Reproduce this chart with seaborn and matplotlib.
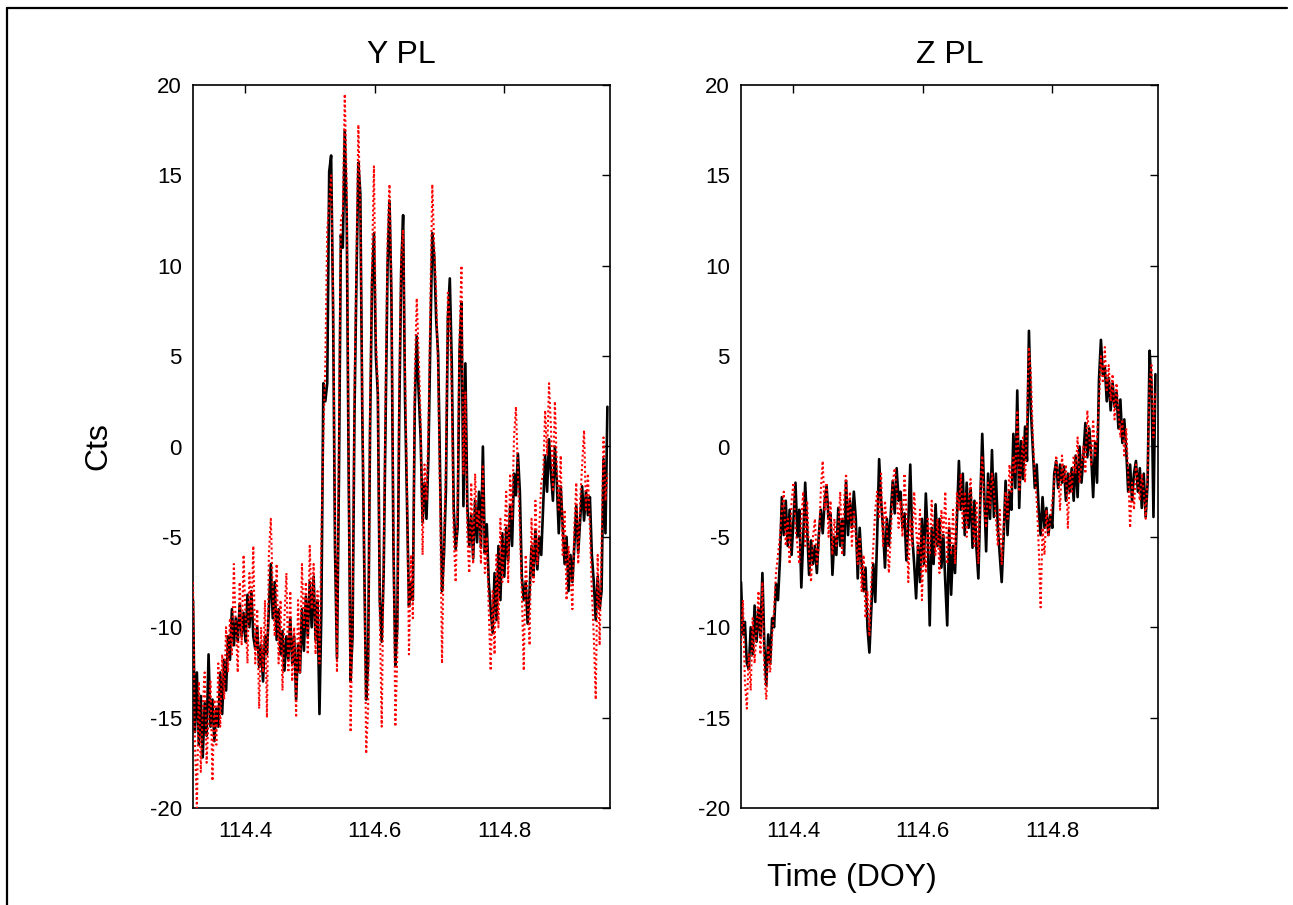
import numpy as np
import pandas as pd
import matplotlib
matplotlib.use("Agg")
import matplotlib.pyplot as plt
import seaborn as sns
from matplotlib.lines import Line2D

# ---------------- data ----------------
T_START = 114.32
T_STEP = 0.003

y_black = [
    -8.5, -15.8, -12.5, -16.5, -13.8, -17.2, -14.2, -16.0, -11.5, -15.5,
    -14.0, -16.3, -14.5, -15.5, -12.5, -14.8, -11.8, -13.5, -10.5, -11.8,
    -9.0, -11.0, -9.5, -10.8, -8.7, -10.5, -9.2, -10.8, -8.2, -10.0,
    -8.0, -10.5, -11.2, -10.0, -12.2, -11.0, -13.0, -10.5, -11.5, -9.0,
    -6.5, -9.5, -7.5, -10.7, -9.0, -11.5, -10.2, -12.4, -10.5, -11.8,
    -9.5, -12.0, -10.5, -14.0, -11.0, -12.5, -9.0, -11.3, -8.3, -10.5,
    -7.5, -10.0, -7.2, -10.7, -8.5, -14.8, -9.0, 3.5, 2.5, 3.5,
    15.2, 16.1, 7.6, -5.7, -11.7, -1.9, 11.7, 11.0, 17.5, 12.8,
    -1.3, -13.0, -10.5, 1.8, 9.2, 15.7, 14.0, 1.9, -6.4, -14.0,
    -12.0, 0.9, 9.0, 11.8, 5.0, 2.9, -8.5, -10.8, -7.0, 1.5,
    10.0, 13.6, 8.2, -5.4, -12.1, -10.0, 1.7, 9.7, 12.8, 2.5,
    -3.1, -8.8, -7.5, -8.5, 2.3, 6.1, 3.0, 0.5, -4.2, -2.0,
    -4.0, -0.6, 6.0, 11.8, 10.5, 7.0, 5.1, -1.3, -8.0, -6.0,
    -2.4, 7.1, 9.3, 4.6, -3.4, -5.7, -4.5, 5.3, 8.0, -3.3,
    4.6, -3.3, -5.5, -3.8, -6.2, -3.0, -5.3, -2.5, -5.6, 0.0,
    -5.9, -4.3, -7.5, -9.0, -10.3, -7.0, -9.6, -5.5, -8.5, -4.8,
    -7.2, -4.5, -6.3, -3.3, -5.5, -1.5, -2.7, -0.4, -2.5, -7.2,
    -8.5, -7.5, -9.8, -8.0, -5.5, -7.2, -4.6, -6.8, -5.0, -6.0,
    -3.3, -0.5, -2.5, 0.4, -1.5, -3.0, 0.0, -2.0, -4.8, -2.2,
    -4.3, -6.5, -5.0, -8.0, -6.0, -7.5, -5.5, -3.3, -5.9, -4.0,
    -2.2, -4.1, -2.5, -3.8, -2.8, -6.0, -7.5, -9.6, -7.2, -9.0,
    -8.0, -0.7, -4.8, 2.2,
]

y_red = [
    -7.5, -16.5, -20.0, -13.0, -18.0, -14.5, -12.5, -17.5, -15.0, -13.0,
    -18.5, -14.0, -16.5, -12.0, -15.5, -11.5, -14.0, -10.0, -12.5, -9.5,
    -11.5, -6.5, -10.0, -12.5, -7.5, -11.0, -6.0, -9.5, -12.0, -7.0,
    -9.5, -5.5, -12.0, -9.0, -14.5, -10.0, -12.5, -8.5, -15.0, -6.0,
    -4.0, -8.0, -10.5, -6.5, -12.0, -8.5, -13.5, -9.5, -7.0, -12.5,
    -8.0, -13.0, -10.0, -15.0, -8.5, -12.5, -6.5, -10.0, -7.5, -11.5,
    -5.5, -9.0, -6.5, -11.5, -8.0, -12.0, -5.0, 0.5, 4.5, 12.0,
    13.5, 15.0, 8.5, -4.5, -12.5, 0.5, 12.5, 13.0, 19.5, 14.5,
    -0.5, -15.8, -9.5, 3.0, 10.5, 17.8, 13.0, 3.0, -5.5, -17.0,
    -14.5, 2.0, 10.0, 15.5, 6.0, 3.5, -9.5, -15.5, -6.0, 3.0,
    11.5, 14.5, 9.0, -4.0, -15.5, -11.5, 3.0, 10.5, 12.0, 4.0,
    -2.0, -11.5, -6.0, -9.5, 4.0, 8.2, 5.0, 1.5, -6.0, -1.0,
    -3.0, 1.0, 8.0, 14.5, 11.0, 8.5, 4.0, -3.0, -12.0, -5.0,
    -1.0, 8.5, 7.0, 3.0, -5.0, -7.5, -3.0, 6.0, 10.0, -1.5,
    3.0, -5.0, -7.0, -2.0, -6.5, -1.5, -4.5, -3.5, -6.5, -1.0,
    -7.0, -5.0, -9.0, -12.4, -8.0, -11.5, -6.0, -10.0, -4.0, -7.5,
    -5.0, -2.5, -7.5, -1.5, -4.0, 0.5, 2.2, -1.5, -4.5, -8.0,
    -12.4, -6.0, -8.5, -11.0, -4.0, -7.5, -3.0, -6.5, -4.5, -2.0,
    -1.5, 2.0, -0.5, 3.5, 1.0, -2.5, 2.5, -1.0, -3.5, -0.5,
    -6.0, -3.5, -8.5, -5.5, -7.0, -9.0, -4.5, -2.0, -6.5, -3.0,
    -1.0, 0.9, -3.5, -1.5, -4.5, -8.0, -10.5, -14.0, -6.0, -11.0,
    -5.5, 0.5, -3.0, -1.5,
]

z_black = [
    -7.5, -10.4, -9.7, -12.0, -12.3, -10.0, -11.5, -8.8, -10.8, -9.0,
    -10.5, -7.0, -11.0, -13.2, -10.4, -12.0, -9.5, -10.0, -7.6, -8.5,
    -6.3, -2.8, -4.9, -3.0, -5.5, -3.5, -6.0, -4.0, -2.0, -5.0,
    -3.5, -7.8, -5.0, -2.0, -4.5, -7.1, -5.2, -6.5, -5.5, -7.0,
    -4.9, -3.5, -4.8, -3.0, -2.2, -4.0, -3.7, -7.1, -5.0, -6.0,
    -3.4, -5.5, -4.0, -6.0, -1.9, -4.9, -3.0, -4.5, -2.5, -4.0,
    -7.3, -4.5, -6.5, -8.0, -6.7, -10.0, -11.4, -9.0, -6.5, -8.6,
    -4.9, -0.7, -3.0, -4.5, -6.7, -4.0, -5.5, -3.7, -1.9, -3.7,
    -1.2, -3.0, -2.5, -4.5, -3.7, -6.3, -4.2, -1.0, -4.9, -6.5,
    -8.4, -5.5, -7.5, -4.0, -6.5, -2.6, -5.0, -9.9, -4.5, -6.5,
    -3.2, -5.5, -4.0, -6.7, -4.9, -7.5, -9.9, -4.5, -8.2, -5.5,
    -7.0, -4.0, -0.8, -3.5, -1.5, -4.9, -2.0, -4.5, -2.3, -5.6,
    -3.0, -5.6, -7.3, -3.0, 0.7, -2.5, -5.8, -1.5, -4.0, -0.2,
    -3.9, -1.5, -4.5, -6.0, -7.5, -5.0, -1.9, -4.9, -2.5, -3.5,
    0.7, -2.3, 3.1, -3.4, 0.3, -1.8, 1.1, -0.8, 6.4, 2.0,
    -0.2, -2.3, -1.0, -3.5, -4.9, -2.8, -4.5, -3.4, -4.9, -3.8,
    -4.5, -1.5, -0.8, -2.3, -1.0, -2.0, -1.1, -3.0, -1.5, -2.5,
    -1.2, -3.0, -0.5, -2.8, 0.0, -2.0, -0.5, 1.3, -0.6, 1.0,
    -0.5, -2.8, 0.2, -2.0, 3.7, 5.9, 4.0, 4.4, 2.5, 3.8,
    2.0, 3.5, 2.2, 3.0, 1.0, 2.6, 0.2, 1.5, -0.2, -2.5,
    -1.0, -3.0, -1.5, -0.8, -2.5, -1.2, -3.4, -1.5, -3.9, -2.0,
    5.3, 3.5, -3.9, 4.0,
]

z_red = [
    -11.0, -8.5, -13.0, -14.5, -11.5, -13.5, -9.5, -12.0, -10.0, -8.0,
    -11.5, -7.5, -12.5, -14.0, -11.0, -12.5, -10.5, -9.0, -7.0, -6.0,
    -5.0, -3.5, -2.5, -5.5, -4.0, -6.5, -3.0, -2.0, -4.5, -5.5,
    -6.5, -4.0, -2.5, -5.5, -3.0, -6.0, -7.5, -5.0, -4.0, -6.5,
    -5.5, -2.5, -0.8, -3.5, -2.0, -5.0, -3.0, -6.0, -4.0, -5.5,
    -4.5, -2.5, -6.0, -3.0, -1.5, -4.0, -2.5, -5.5, -3.5, -5.0,
    -6.5, -5.0, -8.0, -6.0, -9.5, -8.0, -10.5, -7.5, -5.5, -3.5,
    -2.5, -4.0, -1.5, -5.5, -3.0, -4.5, -7.0, -5.0, -2.0, -1.2,
    -2.5, -4.5, -3.0, -5.0, -1.5, -3.5, -7.5, -4.0, -5.5, -2.5,
    -4.5, -6.0, -3.5, -8.5, -5.0, -7.0, -4.0, -6.0, -3.0, -5.0,
    -6.0, -4.0, -7.0, -3.5, -5.0, -2.5, -6.5, -4.0, -6.0, -3.5,
    -6.5, -2.5, -3.5, -1.5, -4.5, -2.5, -5.0, -3.0, -1.8, -4.0,
    -5.5, -3.0, -6.5, -2.5, -0.5, -3.5, -4.5, -2.0, -3.5, -1.5,
    -2.5, -4.0, -5.5, -3.5, -6.5, -4.5, -2.5, -4.0, -1.0, -2.5,
    -0.5, -1.5, 2.0, -2.5, -1.0, 0.5, -2.0, 1.5, 5.5, 4.0,
    0.5, -1.5, -3.0, -5.5, -8.9, -4.5, -6.0, -3.5, -5.0, -4.0,
    -3.0, -2.0, -0.5, -1.5, -3.5, -0.5, -2.0, -1.0, -4.5, -1.5,
    -2.5, -0.5, -1.5, 0.5, -2.0, -1.0, 0.0, -1.5, 2.0, 0.5,
    -1.0, 1.5, -0.5, 0.5, 2.5, 5.0, 3.5, 5.5, 3.0, 4.5,
    2.5, 4.0, 1.5, 3.5, 2.0, 0.5, 1.5, -0.5, 1.0, -1.5,
    -4.5, -2.0, -3.5, -1.0, -2.0, -3.0, -1.5, -2.5, -4.0, -1.5,
    3.5, 4.5, 0.5, 3.0,
]

titles = ["Y PL", "Z PL"]
x_ticks = [114.4, 114.6, 114.8]
x_tick_labels = ["114.4", "114.6", "114.8"]
y_ticks = [-20, -15, -10, -5, 0, 5, 10, 15, 20]
y_tick_labels = ["-20", "-15", "-10", "-5", "0", "5", "10", "15", "20"]
x_limits = (114.32, 114.963)
y_limits = (-20, 20)
y_label = "Cts"
x_label = "Time (DOY)"

# ---------------- figure ----------------
sns.set_theme(style="white")
plt.rcParams["font.family"] = ["Liberation Sans", "DejaVu Sans"]

fig = plt.figure(figsize=(12.93, 9.05), dpi=100)
W, H = 1293.0, 905.0
ax_l = fig.add_axes([193 / W, 1 - 808 / H, 417 / W, 723 / H])
ax_r = fig.add_axes([741 / W, 1 - 808 / H, 417 / W, 723 / H])


def make_frame(black, red):
    t_b = T_START + T_STEP * np.arange(len(black))
    t_r = T_START + T_STEP * np.arange(len(red))
    return (pd.DataFrame({"t": t_b, "v": black}),
            pd.DataFrame({"t": t_r, "v": red}))


panels = [(ax_l, y_black, y_red), (ax_r, z_black, z_red)]
for k, (ax, blk, rd) in enumerate(panels):
    dfb, dfr = make_frame(blk, rd)
    sns.lineplot(data=dfb, x="t", y="v", ax=ax, color="black", lw=1.9,
                 estimator=None, sort=False, zorder=2)
    sns.lineplot(data=dfr, x="t", y="v", ax=ax, color="red", lw=1.5,
                 linestyle=(0, (1, 1.3)), estimator=None, sort=False, zorder=3)
    ax.set_xlim(*x_limits)
    ax.set_ylim(*y_limits)
    ax.set_xticks(x_ticks)
    ax.set_xticklabels(x_tick_labels)
    ax.set_yticks(y_ticks)
    ax.set_yticklabels(y_tick_labels)
    ax.tick_params(direction="in", length=6, width=1, colors="black",
                   top=True, right=True, labelsize=16)
    ax.tick_params(axis="x", pad=9)
    ax.tick_params(axis="y", pad=8)
    for s in ax.spines.values():
        s.set_color("black")
        s.set_linewidth(1.2)
    ax.set_xlabel("")
    ax.set_ylabel("")
    ax.set_title(titles[k], fontsize=23, pad=16, color="black")

ax_l.set_ylabel(y_label, fontsize=23, color="black")
ax_l.yaxis.set_label_coords((113 - 193) / 417, 0.5)
fig.text(852 / W, 1 - 878 / H, x_label, fontsize=23, ha="center",
         va="center", color="black")

# outer frame of the figure window
fig.add_artist(Line2D([7 / W, 7 / W], [0, 1 - 8 / H], transform=fig.transFigure,
                      color="black", lw=1.6))
fig.add_artist(Line2D([7 / W, 1287 / W], [1 - 8 / H, 1 - 8 / H],
                      transform=fig.transFigure, color="black", lw=1.6))

fig.savefig("out.png", dpi=100)
